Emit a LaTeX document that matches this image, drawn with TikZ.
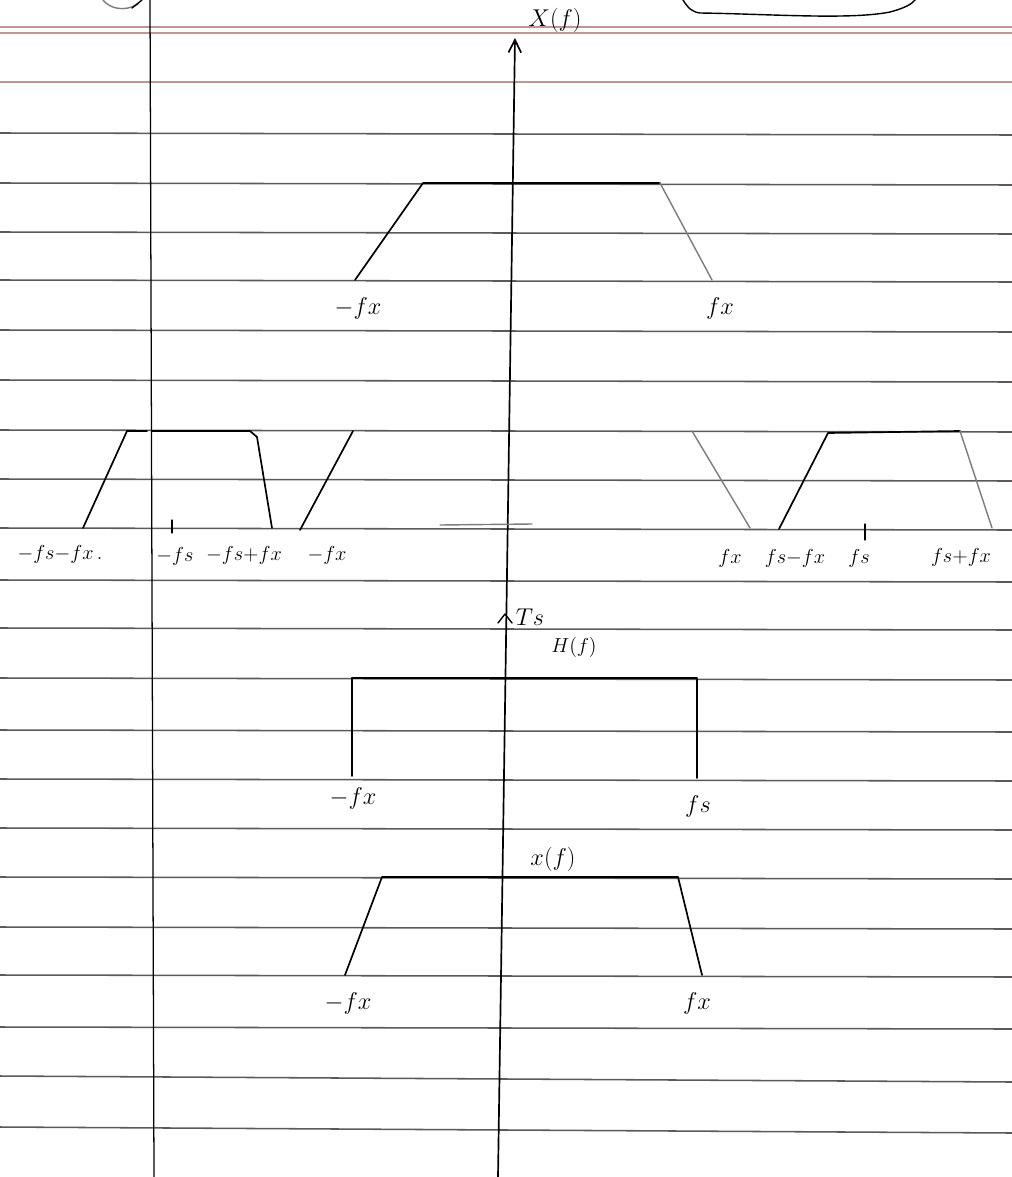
\documentclass[tikz,border=0pt]{standalone}
\usetikzlibrary{arrows.meta}
\definecolor{rulegray}{RGB}{95,88,88}
\definecolor{rulepink}{RGB}{190,150,150}
\definecolor{pencil}{RGB}{125,125,125}
\tikzset{
  ruled/.style={rulegray, line width=1.1pt},
  pinkruled/.style={rulepink, line width=0.8pt},
  pen/.style={black, line width=1.2pt, line join=round, line cap=round},
  pencilline/.style={pencil, line width=1pt, line cap=round},
  lbl/.style={font=\fontsize{16}{18}\selectfont, inner sep=0pt},
  slbl/.style={font=\fontsize{14}{16}\selectfont, inner sep=0pt},
}
\begin{document}
\begin{tikzpicture}[x=0.025cm, y=-0.025cm]
\useasboundingbox (0,0) rectangle (1012,1177);
\fill[white] (0,0) rectangle (1012,1177);

% ruled notebook lines
\draw[pinkruled] (0,27) -- (1012,27);
\draw[pinkruled] (0,33) -- (1012,33);
\draw[pinkruled] (0,82) -- (1012,82);
\foreach \yy in {133,183,232,280,330,380,430,479,528,580,628,678,730,779,828,877,927,975,1027}
  \draw[ruled] (0,\yy) -- (1012,\yy+2);
\draw[ruled] (0,1076) -- (1012,1082);
\draw[ruled] (0,1127) -- (1012,1133);

% margin line
\draw[black, line width=0.9pt] (150,0) -- (154,1177);

% top doodles
\draw[pen, line width=1pt] (683,0) .. controls (688,8) and (692,12) .. (700,13) .. controls (770,14) and (850,20) .. (890,12) .. controls (905,8) and (912,4) .. (915,0);
\draw[pencilline] (103,0) .. controls (110,9) and (125,12) .. (138,4);
\draw[pen, line width=1pt] (132,8) -- (142,0);

% vertical axis
\coordinate (axbot) at (498,1177);
\coordinate (axtop) at (515,38);
\draw[pen, -{Straight Barb[length=9pt,width=9pt]}] (axbot) -- (axtop);
\node[lbl] (Xf) at (555,20) {$X(f)$};

% ---- row 1 : X(f)
\coordinate (a1) at (355,280);
\coordinate (a2) at (423,183);
\coordinate (a3) at (660,183);
\coordinate (a4) at (712,280);
\draw[pen] (a1) -- (a2) -- (a3);
\draw[pencilline] (a3) -- (a4);
\node[lbl] (l1a) at (358,308) {$-fx$};
\node[lbl] (l1b) at (720,308) {$fx$};

% ---- row 2 : sampled spectrum
\coordinate (b1) at (83,528);
\coordinate (b2) at (127,431);
\coordinate (b3) at (147,431);
\draw[pen] (b1) -- (b2) -- (b3);
\coordinate (c1) at (152,431);
\coordinate (c2) at (250,431);
\coordinate (c3) at (257,437);
\coordinate (c4) at (272,528);
\draw[pen] (c1) -- (c2) -- (c3) -- (c4);
\coordinate (d1) at (300,530);
\coordinate (d2) at (353,431);
\draw[pen] (d1) -- (d2);
\coordinate (e1) at (692,431);
\coordinate (e2) at (750,528);
\draw[pencilline] (e1) -- (e2);
\coordinate (g1) at (779,529);
\coordinate (g2) at (828,433);
\coordinate (g3) at (960,431);
\coordinate (g4) at (992,528);
\draw[pen] (g1) -- (g2) -- (g3);
\draw[pencilline] (g3) -- (g4);
% ticks
\coordinate (t1a) at (172,520);
\coordinate (t1b) at (172,533);
\draw[pen, line width=0.9pt] (t1a) -- (t1b);
\coordinate (t2a) at (865,524);
\coordinate (t2b) at (865,540);
\draw[pen, line width=0.9pt] (t2a) -- (t2b);
\draw[pencilline] (440,525) -- (532,524);
% labels
\node[slbl] (l2a) at (60,554) {$-fs{-}fx\,.$};
\node[slbl] (l2b) at (175,556) {$-fs$};
\node[slbl] (l2c) at (244,555) {$-fs{+}fx$};
\node[slbl] (l2d) at (327,555) {$-fx$};
\node[slbl] (l2e) at (730,558) {$fx$};
\node[slbl] (l2f) at (795,558) {$fs{-}fx$};
\node[slbl] (l2g) at (859,558) {$fs$};
\node[slbl] (l2h) at (961,557) {$fs{+}fx$};

% ---- row 3 : H(f)
\coordinate (tsl) at (498,623);
\coordinate (tst) at (505,614);
\coordinate (tsr) at (512,623);
\draw[pen, line width=1pt] (tsl) -- (tst) -- (tsr);
\node[lbl] (Ts) at (530,617) {$Ts$};
\node[slbl] (Hf) at (574,647) {$H(f)$};
\coordinate (h1) at (352,776);
\coordinate (h2) at (352,678);
\coordinate (h3) at (697,678);
\coordinate (h4) at (697,778);
\draw[pen] (h1) -- (h2) -- (h3) -- (h4);
\node[lbl] (l3a) at (353,798) {$-fx$};
\node[lbl] (l3b) at (698,806) {$fs$};

% ---- row 4 : x(f)
\coordinate (k1) at (345,975);
\coordinate (k2) at (382,877);
\coordinate (k3) at (678,877);
\coordinate (k4) at (702,975);
\draw[pen] (k1) -- (k2) -- (k3) -- (k4);
\node[lbl] (xf) at (553,859) {$x(f)$};
\node[lbl] (l4a) at (348,1003) {$-fx$};
\node[lbl] (l4b) at (697,1003) {$fx$};
\end{tikzpicture}
\end{document}
